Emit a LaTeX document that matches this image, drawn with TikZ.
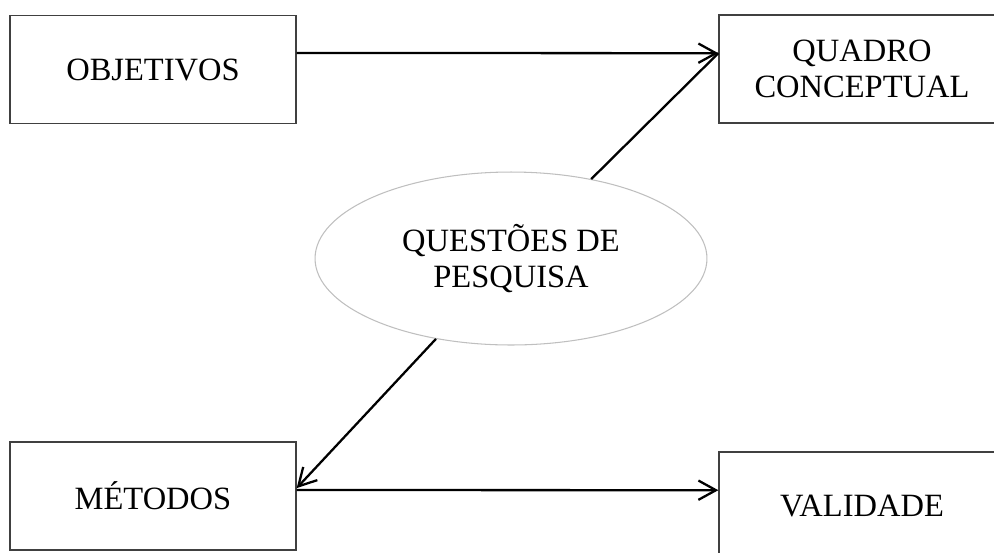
\documentclass[tikz,border=0pt]{standalone}
\usepackage{fontspec}
\setmainfont{Liberation Serif}
\usetikzlibrary{arrows.meta,shapes.geometric}
\begin{document}
\begin{tikzpicture}[x=0.02cm, y=-0.02cm, >={Straight Barb[length=10pt,width=11pt]},
    every node/.style={align=center, font=\fontsize{18.5}{20.5}\selectfont},
    caixa/.style={draw=black!75, line width=0.8pt, minimum width=5.72cm, minimum height=2.16cm, inner sep=0pt}]
\useasboundingbox (0,0) rectangle (994,552);
    \node[caixa] (obj) at (153,69.5) {OBJETIVOS};
    \node[caixa] (cq) at (862,69) {QUADRO\\CONCEPTUAL};
    \node[caixa] (met) at (153,496) {MÉTODOS};
    \node[caixa] (val) at (862,506) {VALIDADE};
    \node[ellipse, draw=black!25, line width=0.6pt, minimum width=7.84cm, minimum height=3.46cm, inner sep=0pt] (q) at (511,258.5) {QUESTÕES DE\\PESQUISA};
\coordinate (oe) at ([yshift=9.4pt]obj.east);
\coordinate (cw) at ([yshift=9pt]cq.west);
\coordinate (me) at ([yshift=3.4pt]met.east);
\coordinate (mt) at ([yshift=4.5pt]met.east);
\coordinate (vw) at ([yshift=9pt]val.west);
    \foreach \from/\to in {oe/cw, me/vw, q/mt}
        \draw[->, line width=1.3pt] (\from) -- (\to);
    \foreach \from/\to in {q/cw}
        \draw[line width=1.3pt] (\from) -- (\to);
\end{tikzpicture}
\end{document}
